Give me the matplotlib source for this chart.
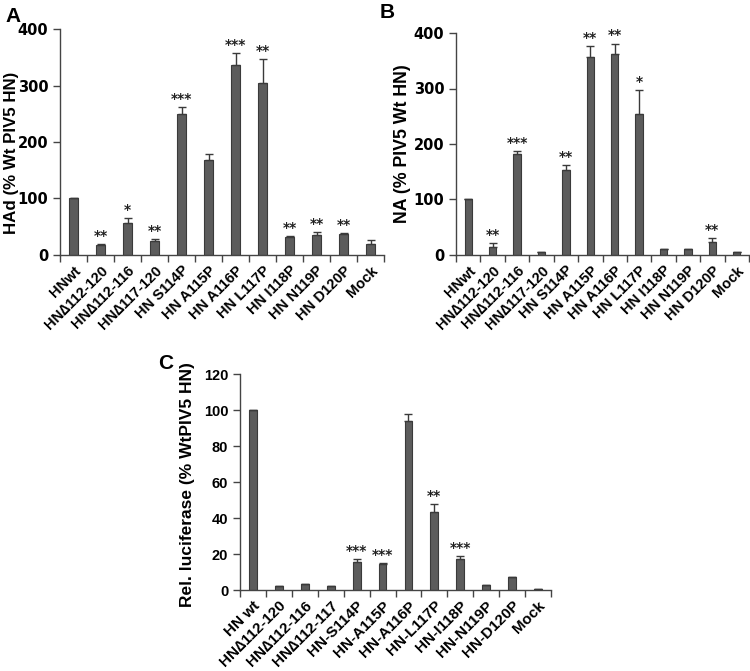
import matplotlib
matplotlib.use("Agg")
import matplotlib.pyplot as plt
import numpy as np

plt.rcParams['font.family'] = ['Liberation Sans', 'DejaVu Sans']
plt.rcParams['font.weight'] = 'bold'

# Panel A data
labels_a = ["HNwt", "HN\u2206112-120", "HN\u2206112-116", "HN\u2206117-120", "HN S114P", "HN A115P",
            "HN A116P", "HN L117P", "HN I118P", "HN N119P", "HN D120P", "Mock"]
vals_a = [100, 18, 56, 24, 249, 168, 337, 305, 32, 35, 38, 20]
errs_a = [0, 1, 9, 4, 13, 11, 20, 42, 2, 5, 1, 6]
stars_a = ["", "**", "*", "**", "***", "", "***", "**", "**", "**", "**", ""]

# Panel B data
labels_b = labels_a
vals_b = [100, 15, 182, 6, 153, 357, 362, 254, 11, 11, 24, 6]
errs_b = [0, 6, 6, 0, 9, 20, 19, 43, 0, 0, 7, 0]
stars_b = ["", "**", "***", "", "**", "**", "**", "*", "", "", "**", ""]

# Panel C data
labels_c = ["HN wt", "HN\u2206112-120", "HN\u2206112-116", "HN\u2206112-117", "HN-S114P", "HN-A115P",
            "HN-A116P", "HN-L117P", "HN-I118P", "HN-N119P", "HN-D120P", "Mock"]
vals_c = [100, 2, 3.2, 2, 15.6, 14.3, 94, 43.2, 17.3, 2.8, 7.1, 0.7]
errs_c = [0, 0, 0, 0, 1.4, 0.5, 3.8, 4.7, 1.7, 0, 0, 0]
stars_c = ["", "", "", "", "***", "***", "", "**", "***", "", "", ""]

W, H = 750, 671
fig = plt.figure(figsize=(W / 100, H / 100), dpi=100)

def box(l, t, r, b):
    return [l / W, 1 - b / H, (r - l) / W, (b - t) / H]

bar_color = "#5c5c5c"
edge_color = "#3a3a3a"
axis_color = "#444444"

def panel(rect, labels, vals, errs, stars, ymax, ystep, ylabel, ylabel_size, ylabel_xy,
          star_off, xtick_size, ytick_family, ytick_size):
    ax = fig.add_axes(rect)
    x = np.arange(len(vals))
    ax.bar(x, vals, width=0.3, color=bar_color, edgecolor=edge_color, linewidth=0.8, zorder=2)
    e = np.array(errs, dtype=float)
    ax.errorbar(x, vals, yerr=[np.zeros_like(e), e], fmt='none', ecolor=edge_color,
                elinewidth=1.0, capsize=3, capthick=1.0, zorder=3)
    for xi, v, er, s in zip(x, vals, errs, stars):
        if s:
            ax.text(xi, v + er + star_off, s, ha='center', va='bottom', fontsize=10,
                    fontweight='bold', color='#222222', family=['DejaVu Sans'])
    ax.set_xlim(-0.5, len(vals) - 0.5)
    ax.set_ylim(0, ymax)
    ax.set_yticks(np.arange(0, ymax + 0.1, ystep))
    ax.set_xticks(x)
    ax.set_xticklabels(labels, rotation=45, ha='right', rotation_mode='anchor',
                       fontsize=xtick_size, fontweight='bold')
    ax.set_xticks(np.arange(-0.5, len(vals), 1.0), minor=True)
    ax.tick_params(axis='x', which='major', length=0, pad=6)
    ax.tick_params(axis='x', which='minor', length=5, width=1.0, direction='out', color=axis_color)
    ax.tick_params(axis='y', length=5, width=1.0, direction='out', color=axis_color)
    for lab in ax.get_yticklabels():
        lab.set_fontweight('bold')
        lab.set_family(ytick_family)
        lab.set_fontsize(ytick_size)
    for sp in ['top', 'right']:
        ax.spines[sp].set_visible(False)
    for sp in ['left', 'bottom']:
        ax.spines[sp].set_color(axis_color)
        ax.spines[sp].set_linewidth(1.0)
    ax.set_ylabel(ylabel, fontsize=ylabel_size, fontweight='bold')
    ax.yaxis.set_label_coords(*ylabel_xy)
    return ax

axA = panel(box(60, 29, 384, 255), labels_a, vals_a, errs_a, stars_a, 400, 100,
            "HAd (% Wt PIV5 HN)", 12.2, (-0.128, 0.45), 2, 10.5, ['DejaVu Sans'], 10.5)
axB = panel(box(456, 33, 749, 255), labels_b, vals_b, errs_b, stars_b, 400, 100,
            "NA (% PIV5 Wt HN)", 12.8, (-0.152, 0.5), 2, 10.5, ['DejaVu Sans'], 10.5)
axC = panel(box(240, 374, 551, 590), labels_c, vals_c, errs_c, stars_c, 120, 20,
            "Rel. luciferase (% WtPIV5 HN)", 12.5, (-0.145, 0.486), 0.6, 11,
            ['Liberation Sans', 'DejaVu Sans'], 10.5)

fig.text(5 / W, 1 - 17 / H, "A", fontsize=15, fontweight='bold', va='center', ha='left')
fig.text(380 / W, 1 - 13 / H, "B", fontsize=15, fontweight='bold', va='center', ha='left')
fig.text(158 / W, 1 - 363 / H, "C", fontsize=15, fontweight='bold', va='center', ha='left')

fig.savefig("out.png", dpi=100)
